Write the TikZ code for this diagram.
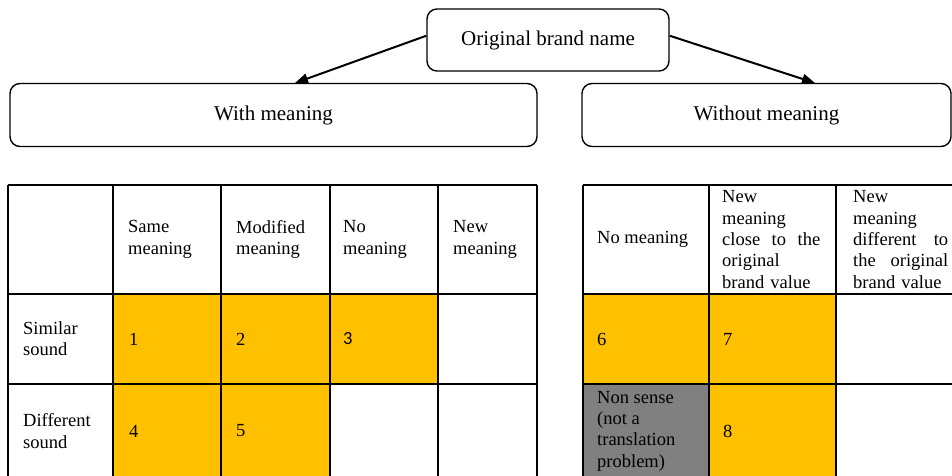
\documentclass[tikz,border=0pt]{standalone}
\usepackage{fontspec}
\setmainfont{Liberation Serif}
\newfontfamily\numfont{Carlito}
\usetikzlibrary{arrows.meta}
\definecolor{amber}{HTML}{FFC000}
\definecolor{slate}{HTML}{808080}
\newcommand{\boxfont}{\fontsize{21}{25}\selectfont}
\newcommand{\cellfont}{\fontsize{18.5}{21.3}\selectfont}
\newcommand{\jline}[2]{\leavevmode\hbox to #1{#2}}

\begin{document}
\begin{tikzpicture}[x=1pt, y=-1pt,
		box/.style={draw, line width=1.4pt, rounded corners=10pt, inner sep=0pt, font=\boxfont},
		cell/.style={anchor=west, align=left, inner sep=0pt, font=\cellfont},
		grid/.style={line width=1.5pt},
		link/.style={-{Triangle[length=13pt,width=10pt]}, line width=2pt}]
		\useasboundingbox (0,0) rectangle (952,476);
		\clip (0,0) rectangle (952,476);
		
		% Boxes
		\node[box, minimum width=242pt, minimum height=62pt] (orig) at (548,40) {Original brand name};
		\node[box, minimum width=527pt, minimum height=63pt] (with) at (273.5,115) {With meaning};
		\node[box, minimum width=369pt, minimum height=63pt] (without) at (766.5,115) {Without meaning};
		\coordinate (withtip) at (295,83);
		\coordinate (withouttip) at (815,83);
		\draw[link] (orig.178) -- (withtip);
		\draw[link] (orig.2) -- (withouttip);
		
		% Cell fills
		\fill[amber] (113,294) rectangle (330,478);
		\fill[amber] (330,294) rectangle (438,384);
		\fill[amber] (583,294) rectangle (836,384);
		\fill[amber] (709,384) rectangle (836,478);
		\fill[slate] (583,384) rectangle (709,478);
		
		% Grid lines
		\foreach \x in {8,113,221,330,438,537} \draw[grid] (\x,185) -- (\x,478);
		\foreach \y in {185,294,384} \draw[grid] (8,\y) -- (537,\y);
		\foreach \x in {583,709,836} \draw[grid] (\x,185) -- (\x,478);
		\foreach \y in {185,294,384} \draw[grid] (583,\y) -- (960,\y);
		
		% Left table
		\node[cell] (same) at (128,239.5) {Same\\meaning};
		\node[cell] (modified) at (236,239.5) {Modified\\meaning};
		\node[cell] (nomean) at (343,239.5) {No\\meaning};
		\node[cell] (newmean) at (453,239.5) {New\\meaning};
		\node[cell] (similar) at (23,339) {Similar\\sound};
		\node[cell] (different) at (23,431) {Different\\sound};
		\node[cell] (n1) at (129,339) {1};
		\node[cell] (n2) at (236,339) {2};
		\node[cell] (n3) at (343,339) {\numfont 3};
		\node[cell] (n4) at (129,431) {4};
		\node[cell] (n5) at (236,431) {5};
		
		% Right table
		\node[cell] (rnomean) at (597,239.5) {No meaning};
		\node[cell, text width=98pt] (close) at (722,239.5) {New\\meaning\\\jline{98pt}{close\hfill to\hfill the}\\original\\brand value};
		\node[cell, text width=95pt] (differ) at (853,239.5) {New\\meaning\\\jline{95pt}{different\hfill to}\\\jline{95pt}{the\hfill original}\\brand value};
		\node[cell] (n6) at (597,339) {6};
		\node[cell] (n7) at (723,339) {7};
		\node[cell] (nonsense) at (597,431) {Non sense\\(not a\\translation\\problem)};
		\node[cell] (n8) at (723,431) {8};
	\end{tikzpicture}
\end{document}
